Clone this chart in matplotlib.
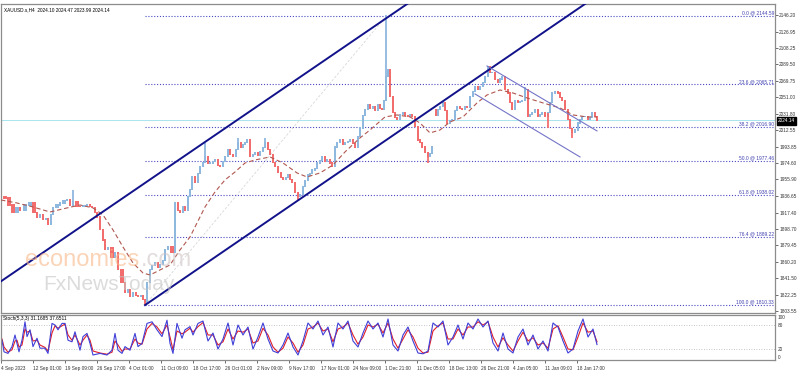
import matplotlib.pyplot as plt
import numpy as np

W, H = 798, 371

# candle closes (x = bar position in pixels)
bar_x = [1, 5, 9, 13, 17, 20, 25, 30, 34, 37, 40, 43, 46, 48, 51, 53, 57, 60, 64, 67,
         70, 73, 77, 80, 84, 87, 90, 92, 95, 97, 100, 103, 105, 108, 112, 115, 118, 122, 125, 128,
         130, 133, 136, 138, 141, 143, 145, 147, 150, 152, 155, 158, 160, 163, 165, 168, 172, 175, 178, 180,
         183, 185, 188, 190, 192, 195, 198, 200, 203, 205, 208, 210, 213, 215, 218, 220, 223, 225, 228, 230,
         233, 236, 238, 241, 243, 245, 247, 250, 253, 255, 258, 260, 263, 265, 268, 270, 273, 275, 278, 281,
         283, 286, 288, 290, 292, 295, 298, 300, 303, 305, 308, 310, 312, 315, 317, 320, 322, 325, 327, 330,
         332, 335, 337, 340, 343, 345, 348, 350, 353, 355, 358, 360, 363, 365, 368, 370, 373, 375, 378, 380,
         382, 384, 386, 388, 390, 393, 395, 397, 400, 403, 405, 408, 410, 412, 415, 418, 420, 422, 425, 428,
         430, 432, 433, 436, 438, 440, 443, 445, 447, 450, 452, 455, 457, 460, 462, 465, 467, 470, 473, 475,
         478, 480, 483, 485, 488, 490, 492, 495, 498, 500, 502, 505, 508, 510, 512, 515, 518, 520, 522, 525,
         528, 530, 532, 535, 538, 540, 542, 545, 548, 550, 552, 555, 558, 560, 562, 565, 568, 570, 572, 575,
         578, 580, 582, 585, 588, 590, 592, 595, 597]
close = [1935.5, 1934.3, 1926.2, 1918.1, 1922.8, 1920.4, 1926.2, 1928.5, 1917.0, 1912.3, 1914.7, 1908.9, 1910.0, 1903.1, 1914.7, 1922.8, 1926.2, 1928.5, 1931.0, 1932.0,
         1926.2, 1929.7, 1925.0, 1923.9, 1926.0, 1926.2, 1924.0, 1922.8, 1918.0, 1912.3, 1897.3, 1885.7, 1874.2, 1876.5, 1866.0, 1870.7, 1851.0, 1836.0, 1824.4, 1828.0,
         1819.8, 1824.4, 1822.0, 1819.8, 1821.0, 1816.3, 1812.0, 1836.0, 1851.0, 1856.0, 1859.1, 1854.0, 1856.8, 1862.0, 1874.2, 1877.6, 1870.7, 1928.5, 1920.0, 1918.1,
         1925.0, 1920.4, 1935.5, 1944.0, 1958.6, 1951.7, 1963.0, 1970.2, 1975.0, 1981.8, 1974.0, 1974.8, 1976.0, 1978.3, 1972.0, 1970.2, 1976.0, 1981.8, 1989.9, 1985.0,
         1981.8, 1990.0, 1998.0, 1993.0, 1995.7, 1999.0, 2001.4, 1981.8, 1985.0, 1986.4, 1983.0, 1987.6, 1993.0, 1998.0, 1990.0, 1984.1, 1975.0, 1970.2, 1963.3, 1958.0,
         1955.2, 1958.0, 1960.9, 1956.0, 1951.7, 1940.1, 1935.5, 1938.0, 1947.1, 1955.0, 1960.9, 1963.0, 1966.7, 1968.0, 1974.8, 1978.0, 1981.8, 1976.0, 1978.3, 1974.8,
         1970.2, 1993.3, 1998.0, 2001.4, 1996.0, 1998.0, 2000.0, 2001.4, 1997.0, 1993.3, 2005.0, 2015.3, 2030.0, 2036.2, 2041.9, 2038.0, 2039.6, 2036.0, 2041.9, 2038.0,
         2036.2, 2047.0, 2074.4, 2082.5, 2051.2, 2032.7, 2028.0, 2024.6, 2030.4, 2032.7, 2030.0, 2028.1, 2031.0, 2028.1, 2016.5, 2001.4, 1998.0, 1993.3, 1986.4, 1981.8,
         1986.0, 1993.3, 2036.2, 2030.0, 2036.2, 2040.0, 2044.3, 2035.0, 2021.1, 2024.0, 2024.6, 2035.0, 2039.6, 2038.0, 2036.2, 2040.0, 2039.6, 2051.2, 2058.0, 2062.8,
         2060.0, 2062.8, 2068.0, 2074.4, 2085.9, 2079.0, 2079.0, 2070.9, 2067.4, 2072.0, 2074.4, 2059.3, 2055.8, 2045.0, 2036.2, 2047.5, 2044.3, 2046.0, 2047.5, 2059.3,
         2028.1, 2031.0, 2032.7, 2036.2, 2028.1, 2031.0, 2032.7, 2028.1, 2032.7, 2045.0, 2055.8, 2057.0, 2055.8, 2051.0, 2047.5, 2036.2, 2024.6, 2015.0, 2009.6, 2013.0,
         2021.1, 2025.0, 2028.1, 2028.1, 2024.6, 2027.0, 2032.7, 2028.1, 2024.14]

# long wicks worth showing
wick_x = [73, 145, 205, 238, 265, 298, 386, 428, 525, 548, 572]
wick_p = [1943.6, 1810.3, 1998.0, 2003.8, 2003.8, 1932.0, 2146.1, 1974.8, 2062.8, 2015.3, 2003.8]

# dashed moving average
ma_x = [1, 17, 33, 50, 67, 80, 93, 103, 113, 123, 133, 143, 150, 160, 170, 180, 190, 200, 205, 215,
        225, 235, 245, 255, 270, 283, 297, 307, 320, 333, 345, 360, 370, 385, 397, 410, 420, 430, 440, 450,
        463, 477, 487, 500, 513, 527, 543, 560, 573, 587, 597]
ma_p = [1932.0, 1928.5, 1923.9, 1918.1, 1922.8, 1926.2, 1922.8, 1914.7, 1897.3, 1877.6, 1859.1, 1847.5, 1845.2, 1851.0, 1856.8, 1874.2, 1889.2, 1912.3, 1923.9, 1941.3,
        1955.2, 1964.4, 1974.8, 1978.3, 1981.8, 1974.8, 1963.3, 1958.6, 1963.3, 1972.5, 1987.6, 2003.8, 2013.0, 2028.1, 2030.4, 2028.1, 2021.1, 2009.6, 2013.0, 2022.3,
        2028.1, 2044.3, 2053.5, 2059.3, 2055.8, 2050.1, 2044.3, 2038.5, 2030.4, 2028.1, 2028.1]

fib_pct = ['0.0', '23.6', '38.2', '50.0', '61.8', '76.4', '100.0']
fib_val = [2144.59, 2065.71, 2016.90, 1977.46, 1938.02, 1889.22, 1810.33]

chan_up_x, chan_up_p = [0, 420], [1837.1, 2169.0]
chan_lo_x, chan_lo_p = [145, 600], [1810.33, 2170.7]
desc_up_x, desc_up_p = [487, 597], [2087.1, 2011.9]
desc_lo_x, desc_lo_p = [475, 580], [2054.7, 1981.8]

y_ticks = [2146.20, 2126.95, 2108.25, 2089.50, 2069.75, 2051.00, 2031.80, 2012.55, 1993.85, 1974.60,
           1955.90, 1936.65, 1917.40, 1898.70, 1879.45, 1860.20, 1841.50, 1822.25, 1803.55]
last_price = 2024.14

x_labels = ['4 Sep 2023', '12 Sep 01:00', '19 Sep 09:00', '26 Sep 17:00', '4 Oct 01:00', '11 Oct 09:00',
            '18 Oct 17:00', '26 Oct 01:00', '2 Nov 09:00', '9 Nov 17:00', '17 Nov 01:00', '24 Nov 09:00',
            '1 Dec 21:00', '11 Dec 05:00', '18 Dec 13:00', '26 Dec 21:00', '4 Jan 05:00', '11 Jan 09:00',
            '18 Jan 17:00']

# stochastic, read roughly
st_x = [2, 4, 8, 12, 15, 17, 19, 22, 25, 27, 30, 33, 37, 40, 45, 48, 52, 55, 58, 62,
        65, 68, 72, 75, 80, 83, 87, 90, 93, 100, 107, 112, 115, 118, 122, 125, 130, 135, 138, 142,
        147, 152, 157, 162, 167, 170, 173, 177, 182, 185, 190, 193, 198, 203, 208, 213, 218, 223, 228, 233,
        238, 243, 248, 253, 258, 263, 268, 273, 278, 283, 288, 293, 298, 303, 308, 313, 318, 323, 328, 333,
        338, 343, 348, 353, 358, 363, 368, 373, 378, 383, 388, 393, 398, 403, 408, 413, 418, 423, 428, 433,
        438, 443, 448, 453, 458, 463, 468, 473, 478, 483, 488, 493, 498, 503, 508, 513, 518, 523, 528, 533,
        538, 543, 548, 553, 558, 563, 568, 573, 578, 583, 588, 593, 597]
st_k = [42, 13, 9, 26, 55, 34, 13, 42, 88, 51, 68, 26, 47, 22, 22, 9, 84, 80, 68, 84,
        84, 42, 38, 63, 17, 51, 59, 34, 5, 9, 5, 17, 59, 17, 9, 26, 17, 59, 26, 34,
        84, 88, 68, 51, 92, 34, 9, 84, 47, 68, 76, 55, 84, 90, 40, 60, 20, 45, 85, 30,
        80, 55, 75, 20, 50, 85, 45, 15, 10, 30, 60, 25, 5, 40, 85, 70, 90, 55, 75, 25,
        85, 70, 90, 40, 25, 60, 90, 70, 85, 50, 95, 30, 15, 55, 75, 40, 10, 8, 15, 85,
        75, 90, 30, 50, 80, 45, 85, 70, 95, 75, 90, 35, 15, 60, 20, 10, 50, 70, 30, 55,
        20, 40, 15, 85, 75, 40, 10, 20, 65, 95, 50, 70, 31]
st_d = [45, 25, 12, 18, 40, 42, 25, 30, 70, 62, 65, 40, 42, 30, 24, 15, 60, 78, 72, 78,
        82, 55, 42, 55, 30, 42, 55, 42, 15, 10, 7, 12, 40, 30, 14, 20, 20, 45, 35, 32,
        70, 84, 75, 58, 80, 50, 18, 65, 58, 62, 72, 62, 76, 86, 55, 55, 30, 38, 70, 45,
        65, 62, 70, 35, 40, 72, 55, 25, 12, 22, 50, 35, 12, 30, 70, 75, 85, 65, 70, 38,
        70, 75, 85, 55, 32, 50, 80, 75, 82, 60, 85, 45, 22, 45, 68, 50, 22, 10, 12, 65,
        78, 85, 45, 45, 70, 55, 75, 75, 88, 80, 88, 50, 25, 48, 30, 15, 40, 62, 40, 48,
        30, 35, 22, 70, 78, 50, 20, 18, 50, 85, 62, 65, 38]

plt.rcParams['font.family'] = ['Liberation Sans', 'DejaVu Sans']

fig = plt.figure(figsize=(W / 100, H / 100), dpi=100)
fig.patch.set_facecolor('white')


def fx(px):
    return px / W


def fy(py):
    return 1 - py / H


ax = fig.add_axes([fx(1), fy(313), fx(775) - fx(1), fy(4) - fy(313)])
ax2 = fig.add_axes([fx(1), fy(360), fx(775) - fx(1), fy(315) - fy(360)])

x_lo, x_hi = 1, 775
ax.set_xlim(x_lo, x_hi)
ax.set_ylim(1801.2, 2158.8)

# candles from consecutive closes
bull, bear = '#8fb8de', '#f26d6d'
for i in range(1, len(bar_x)):
    o, c = close[i - 1], close[i]
    w = (bar_x[i] - bar_x[i - 1]) * 0.9
    col = bull if c >= o else bear
    ax.bar(bar_x[i], abs(c - o) + 1.2, bottom=min(o, c) - 0.6, width=w, color=col, lw=0, zorder=3)
for wx, wp in zip(wick_x, wick_p):
    j = int(np.argmin(np.abs(np.array(bar_x) - wx)))
    ax.vlines(wx, min(close[j], wp), max(close[j], wp), color=bull if wp > close[j] else bear, lw=1.3, zorder=3)

ax.plot(ma_x, ma_p, color='#b0574f', lw=0.8, dashes=(4, 2.5), zorder=4)

# fibonacci
for pct, v in zip(fib_pct, fib_val):
    ax.plot([145, x_hi], [v, v], color='#4a4ac4', lw=0.8, ls=(0, (1, 1.6)), zorder=2)
    ax.text(x_hi - 1, v + 0.6, f'{pct} @ {v:.2f}', color='#4040b0', fontsize=3.5,
            ha='right', va='bottom', zorder=5)
ax.plot([145, 386], [fib_val[-1], fib_val[0]], color='#d8d8d8', lw=0.6, ls=(0, (3, 2)), zorder=1)

ax.axhline(last_price, color='#a8e4ec', lw=0.7, zorder=1)

ax.plot(chan_up_x, chan_up_p, color='#12128a', lw=1.4, zorder=5)
ax.plot(chan_lo_x, chan_lo_p, color='#12128a', lw=1.4, zorder=5)
ax.plot(desc_up_x, desc_up_p, color='#7474c8', lw=0.8, zorder=5)
ax.plot(desc_lo_x, desc_lo_p, color='#7474c8', lw=0.8, zorder=5)

# watermark
ax.text(25, 1856, 'economies', color='#f9b888', alpha=0.6, fontsize=17, zorder=6)
ax.text(141, 1856, '.com', color='#d0c4c4', alpha=0.6, fontsize=17, zorder=6)
ax.text(43, 1828, 'FxNewsToday', color='#c4c4c4', alpha=0.6, fontsize=15, zorder=6)

ax.yaxis.tick_right()
ax.set_yticks(y_ticks)
ax.set_yticklabels([f'{v:.2f}' for v in y_ticks])
ax.tick_params(axis='y', labelsize=3.4, length=2, width=0.5, pad=1, colors='#333333')
ax.set_xticks([])
for s in ax.spines.values():
    s.set_color('#8c8c8c')
    s.set_linewidth(0.9)

fig.text(fx(778), fy(121), f'{last_price:.2f}', color='white', fontsize=3.4, va='center', ha='left',
         bbox=dict(boxstyle='square,pad=0.25', fc='black', ec='black'))

fig.text(fx(4), fy(10), 'XAUUSD.s,H4  2024.10 2024.47 2023.99 2024.14', fontsize=3.4, va='center')

# stochastic panel
ax2.set_xlim(x_lo, x_hi)
ax2.set_ylim(-7.5, 105)
ax2.axhline(80, color='#b4b4b4', lw=0.6, ls=(0, (1, 2)))
ax2.axhline(20, color='#b4b4b4', lw=0.6, ls=(0, (1, 2)))
ax2.plot(st_x, st_d, color='#e0202a', lw=0.8)
ax2.plot(st_x, st_k, color='#3f3fd8', lw=0.8)
ax2.text(3, 103, 'Stoch(5,3,3) 31.1685 37.6511', fontsize=3.4, va='top')
ax2.yaxis.tick_right()
ax2.set_yticks([100, 80, 20, 0])
ax2.tick_params(axis='y', labelsize=3.4, length=0, pad=2, colors='#333333')
ax2.set_xticks([1 + 32 * k for k in range(len(x_labels))])
ax2.set_xticklabels(x_labels, ha='left')
ax2.tick_params(axis='x', labelsize=3.4, length=2.5, width=0.5, pad=1.5, colors='#333333')
for s in ax2.spines.values():
    s.set_color('#8c8c8c')
    s.set_linewidth(0.9)

fig.savefig('out.png', dpi=100)
